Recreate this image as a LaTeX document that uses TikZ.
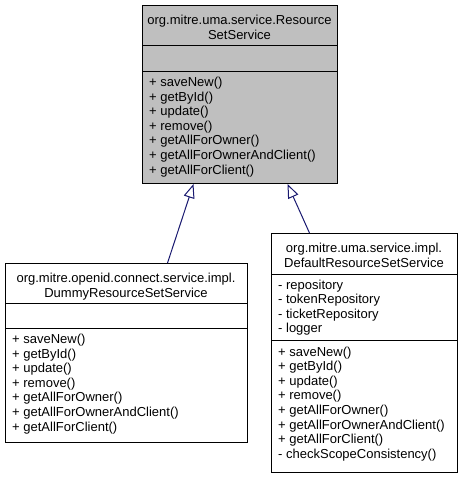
\documentclass[tikz,border=0pt]{standalone}
\usepackage{fontspec}
\setmainfont{Liberation Sans}
\usetikzlibrary{arrows.meta}
\definecolor{edgeblue}{HTML}{191970}
\definecolor{boxgray}{HTML}{BFBFBF}
\begin{document}
\begin{tikzpicture}[x=1pt,y=-1pt,
  font=\fontsize{13}{14.6}\selectfont,
  umlbox/.style={draw=black, line width=1pt, rectangle, inner sep=0pt, anchor=north west},
  member/.style={anchor=base west, inner sep=0pt},
  titletext/.style={anchor=base, inner sep=0pt},
  sepline/.style={draw=black, line width=1pt},
  inherit/.style={draw=edgeblue, line width=1pt, -{Triangle[length=14pt,width=11pt,fill=white]}}]
\useasboundingbox (0,0) rectangle (463,477);
% boxes
\node[umlbox, fill=boxgray, minimum width=195pt, minimum height=178pt] (base) at (142,5) {};
\node[umlbox, fill=white, minimum width=242pt, minimum height=179pt] (dummy) at (5,263) {};
\node[umlbox, fill=white, minimum width=186pt, minimum height=239pt] (impl) at (271,233) {};
% separators
\draw[sepline] ([yshift=-40pt]base.north west) -- ([yshift=-40pt]base.north east);
\draw[sepline] ([yshift=-66pt]base.north west) -- ([yshift=-66pt]base.north east);
\draw[sepline] ([yshift=-40pt]dummy.north west) -- ([yshift=-40pt]dummy.north east);
\draw[sepline] ([yshift=-65pt]dummy.north west) -- ([yshift=-65pt]dummy.north east);
\draw[sepline] ([yshift=-41pt]impl.north west) -- ([yshift=-41pt]impl.north east);
\draw[sepline] ([yshift=-107pt]impl.north west) -- ([yshift=-107pt]impl.north east);
% base box text
\node[titletext] (baseT1) at (239.5,24.5) {org.mitre.uma.service.Resource};
\node[titletext] (baseT2) at (239.5,39) {SetService};
\foreach \t [count=\i from 0] in {saveNew(), getById(), update(), remove(), getAllForOwner(), getAllForOwnerAndClient(), getAllForClient()}
  \node[member] (baseM\i) at (149,{86.5+14.6*\i}) {+ \t};
% dummy box text
\node[titletext] (dummyT1) at (126,282.5) {org.mitre.openid.connect.service.impl.};
\node[titletext] (dummyT2) at (126,297) {DummyResourceSetService};
\foreach \t [count=\i from 0] in {saveNew(), getById(), update(), remove(), getAllForOwner(), getAllForOwnerAndClient(), getAllForClient()}
  \node[member] (dummyM\i) at (12,{343.5+14.6*\i}) {+ \t};
% impl box text
\node[titletext] (implT1) at (364,252.5) {org.mitre.uma.service.impl.};
\node[titletext] (implT2) at (364,267) {DefaultResourceSetService};
\foreach \t [count=\i from 0] in {repository, tokenRepository, ticketRepository, logger}
  \node[member] (implA\i) at (278,{289+14.6*\i}) {- \t};
\foreach \t [count=\i from 0] in {saveNew(), getById(), update(), remove(), getAllForOwner(), getAllForOwnerAndClient(), getAllForClient()}
  \node[member] (implM\i) at (278,{356+14.6*\i}) {+ \t};
\node[member] (implM7) at (278,{356+14.6*7}) {- checkScopeConsistency()};
% inheritance
\draw[inherit] ([xshift=41pt]dummy.north) -- ([xshift=-46.5pt]base.south);
\draw[inherit] ([xshift=-55pt]impl.north) -- ([xshift=47.5pt]base.south);
\end{tikzpicture}
\end{document}
